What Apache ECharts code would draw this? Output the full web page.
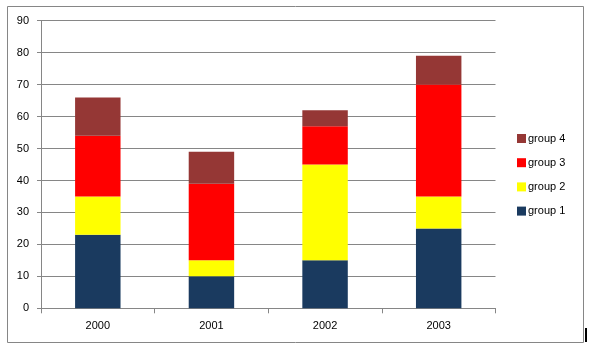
<!DOCTYPE html>
<html>
<head>
<meta charset="utf-8">
<script src="https://cdn.jsdelivr.net/npm/echarts@6/dist/echarts.min.js"></script>
<style>html,body{margin:0;padding:0;background:#fff}#c{width:589px;height:347px}</style>
</head>
<body>
<div id="c"></div>
<script>
const categories = ['2000', '2001', '2002', '2003'];
const group1 = [23, 10, 15, 25];
const group2 = [12, 5, 30, 10];
const group3 = [19, 24, 12, 35];
const group4 = [12, 10, 5, 9];
const yTicks = [0, 10, 20, 30, 40, 50, 60, 70, 80, 90];

const chart = echarts.init(document.getElementById('c'));
const font = 'Liberation Sans';
function s(name, data, color) {
  return { name, type: 'bar', stack: 'a', data, barCategoryGap: '60%',
    itemStyle: { color }, emphasis: { disabled: true } };
}
chart.setOption({
  animation: false,
  grid: { left: 41, right: 93.5, top: 20.7, bottom: 38.7 },
  legend: {
    orient: 'vertical', left: 512, top: 128, itemGap: 13.2, padding: 5,
    itemWidth: 9, itemHeight: 9, icon: 'rect',
    data: ['group 4', 'group 3', 'group 2', 'group 1'],
    textStyle: { fontFamily: font, fontSize: 11, color: '#000', padding: [0, 0, 0, -3] },
    selectedMode: false
  },
  xAxis: {
    type: 'category', data: categories,
    axisLine: { lineStyle: { color: '#868686' } },
    axisTick: { show: true, length: 5, lineStyle: { color: '#868686' } },
    axisLabel: { fontFamily: font, fontSize: 11, color: '#000', margin: 12 }
  },
  yAxis: {
    type: 'value', min: yTicks[0], max: yTicks[yTicks.length - 1], interval: 10,
    axisLine: { show: true, lineStyle: { color: '#868686' } },
    axisTick: { show: true, length: 4, lineStyle: { color: '#868686' } },
    splitLine: { lineStyle: { color: '#868686' } },
    axisLabel: { fontFamily: font, fontSize: 11, color: '#000', margin: 12 }
  },
  series: [
    s('group 1', group1, '#1A3A5F'),
    s('group 2', group2, '#FFFF00'),
    s('group 3', group3, '#FF0000'),
    s('group 4', group4, '#953735')
  ],
  graphic: [
    { type: 'rect', shape: { x: 7.5, y: 6.5, width: 576, height: 336 },
      style: { fill: 'none', stroke: '#868686', lineWidth: 1 }, silent: true },
    { type: 'rect', shape: { x: 585, y: 328, width: 2, height: 14 },
      style: { fill: '#000' }, silent: true }
  ]
});
</script>
</body>
</html>
